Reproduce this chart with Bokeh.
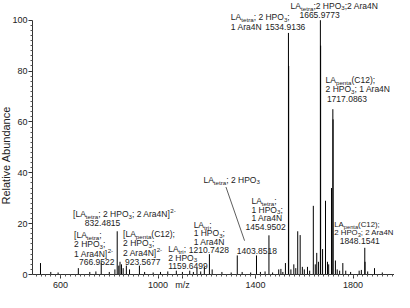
import re
from bokeh.plotting import figure
from bokeh.models import ColumnDataSource, FixedTicker, Range1d, Title
from bokeh.core.properties import value
from bokeh.embed import file_html
from bokeh.resources import INLINE

# ---------------- data ----------------
mz = [517.8, 560, 590, 673, 720, 745, 766.95, 800, 823, 832.48, 839, 844, 850, 857,
      870, 883, 923.57, 945, 980, 1010, 1040, 1075, 1100, 1130, 1145, 1159.65, 1175,
      1190, 1210.74, 1222, 1262, 1300, 1325, 1345, 1380, 1403.85, 1420, 1439, 1454.95,
      1470, 1495, 1504, 1512, 1522.6, 1534.91, 1535.91, 1545, 1557, 1565, 1573, 1583,
      1592, 1600, 1613, 1622, 1637, 1645, 1651, 1658, 1665.98, 1666.98, 1675, 1687,
      1695, 1700, 1711.5, 1717.09, 1718.09, 1727.6, 1735, 1745, 1758, 1770, 1790,
      1825, 1834, 1848.15, 1849.15, 1860, 1888, 1920]
abundance = [4.5, 1.0, 0.8, 2.5, 1.0, 1.2, 4.8, 1.0, 2.0, 17.0, 3.5, 5.0, 4.0, 2.5,
             3.5, 2.0, 3.5, 1.0, 0.8, 1.0, 1.2, 1.5, 1.0, 1.5, 1.0, 2.5, 1.2,
             3.0, 8.0, 2.0, 1.0, 0.8, 7.5, 1.0, 0.8, 7.5, 1.0, 1.2, 15.4,
             0.8, 2.0, 2.2, 1.0, 4.5, 95, 82, 2.0, 4.0, 2.5, 17, 15.5,
             3.0, 2.0, 3.0, 1.5, 27, 4.0, 8.5, 5.0, 100, 90, 10, 29,
             5.0, 4.0, 34, 65, 61, 5.5, 2.0, 1.5, 4.5, 1.5, 1.0,
             1.5, 1.8, 10.5, 5.0, 1.2, 2.5, 0.8]

x_ticks = [600, 1000, 1400, 1800]
y_ticks = [0, 20, 40, 60, 80, 100]
x_title_at = 1100
x_title = "m/z"
y_title = "Relative Abundance"

# peak annotations: (m/z of left edge, abundance of line centre, text with _{sub} ^{sup}, size)
annotations = [
    (651.6, 23.6, "[LA_{tetra}; 2 HPO_{3}; 2 Ara4N]^{2-}", 8.5),
    (699.8, 20.3, "832.4815", 8.5),
    (655.6, 15.5, "[LA_{tetra};", 8.5),
    (655.6, 11.8, "2 HPO_{3};", 8.5),
    (655.6, 8.1, "1 Ara4N]^{2-}", 8.5),
    (675.7, 4.8, "766.9522", 8.5),
    (856.6, 15.9, "[LA_{penta}(C12);", 8.5),
    (856.6, 12.2, "2 HPO_{3};", 8.5),
    (856.6, 8.5, "2 Ara4N]^{2-}", 8.5),
    (864.6, 4.8, "923.5677", 8.5),
    (1041.5, 10.0, "LA_{tri};", 8.5),
    (1041.5, 6.6, "2 HPO_{3}", 8.5),
    (1041.5, 3.3, "1159.6499", 8.5),
    (1146.0, 19.6, "LA_{tri};", 8.5),
    (1146.0, 16.3, "1 HPO_{3};", 8.5),
    (1146.0, 12.9, "1 Ara4N", 8.5),
    (1125.9, 9.6, "1210.7428", 8.5),
    (1186.2, 37.3, "LA_{tetra}; 2 HPO_{3}", 8.5),
    (1322.8, 9.2, "1403.8518", 8.5),
    (1383.1, 28.8, "LA_{tetra};", 8.5),
    (1383.1, 25.5, "1 HPO_{3};", 8.5),
    (1383.1, 22.2, "1 Ara4N", 8.5),
    (1359.0, 18.7, "1454.9502", 8.5),
    (1298.7, 101.2, "LA_{tetra}; 2 HPO_{3};", 8.5),
    (1298.7, 97.5, "1 Ara4N", 8.5),
    (1439.4, 97.2, "1534.9136", 8.5),
    (1543.8, 105.6, "LA_{tetra};2 HPO_{3};2 Ara4N", 8.5),
    (1580.0, 102.0, "1665.9773", 8.5),
    (1687.3, 76.5, "LA_{penta}(C12);", 8.5),
    (1687.3, 72.8, "2 HPO_{3}; 1 Ara4N", 8.5),
    (1692.6, 69.1, "1717.0863", 8.5),
    (1723.0, 19.7, "LA_{penta}(C12);", 7.8),
    (1723.0, 16.6, "2 HPO_{3}; 2 Ara4N", 7.8),
    (1745.0, 13.2, "1848.1541", 8.5),
]
leader_x = [1278.6, 1354.9]
leader_y = [34.4, 13.3]

# ---------------- figure ----------------
FONT = "Liberation Sans"
p = figure(width=394, height=292, output_backend="svg", toolbar_location=None,
           x_range=Range1d(485, 1970), y_range=Range1d(0, 107.75),
           min_border_left=0, min_border_right=0, min_border_top=0, min_border_bottom=0)
p.outline_line_color = None
p.xgrid.visible = False
p.ygrid.visible = False
p.background_fill_color = "white"
p.border_fill_color = "white"

p.segment(x0=mz, y0=[0] * len(mz), x1=mz, y1=abundance, line_color="black", line_width=1)
p.line(leader_x, leader_y, line_color="#333333", line_width=0.8)

for ax in (p.xaxis[0], p.yaxis[0]):
    ax.axis_line_color = "#333333"
    ax.major_tick_line_color = "#333333"
    ax.minor_tick_line_color = "#555555"
    ax.major_tick_in = 0
    ax.major_tick_out = 4
    ax.minor_tick_in = 0
    ax.minor_tick_out = 2
    ax.major_label_text_font = FONT
    ax.major_label_text_font_size = "9px"
    ax.major_label_text_color = "#222222"
    ax.major_label_standoff = 1

p.yaxis[0].ticker = FixedTicker(ticks=y_ticks, minor_ticks=[v for v in range(0, 101, 2) if v % 20])
p.yaxis[0].bounds = (0, 100)
p.xaxis[0].ticker = FixedTicker(ticks=x_ticks + [x_title_at],
                                minor_ticks=list(range(500, 1961, 20)))
p.xaxis[0].major_label_overrides = {x_title_at: x_title}

p.add_layout(Title(text=y_title, align="left", offset=70, standoff=-5,
                   text_font=FONT, text_font_size="11px", text_font_style="normal",
                   text_color="#222222"), "left")

# ---------------- rich text annotations ----------------
W = {' ': 278, '(': 333, ')': 333, '-': 333, '.': 278, ':': 278, ';': 278, '[': 278, ']': 278,
     'A': 667, 'C': 722, 'H': 722, 'L': 556, 'N': 722, 'O': 778, 'P': 667,
     'a': 556, 'c': 500, 'e': 556, 'i': 222, 'n': 556, 'p': 556, 'r': 333, 't': 278}


def width(s, size):
    return sum(W.get(c, 556) for c in s) / 1000.0 * size


cols = dict(x=[], y=[], text=[], xo=[], yo=[], size=[])
for x0, y0, line, norm in annotations:
    small = norm * 0.73
    off = 0.0
    for tok in re.split(r'(_\{[^}]*\}|\^\{[^}]*\})', line):
        if not tok:
            continue
        if tok.startswith('_{'):
            t, size, yo = tok[2:-1], small, 2.5
        elif tok.startswith('^{'):
            t, size, yo = tok[2:-1], small, -3.3
        else:
            t, size, yo = tok, norm, 0.0
        cols['x'].append(x0)
        cols['y'].append(y0)
        cols['text'].append(t)
        cols['xo'].append(round(off, 2))
        cols['yo'].append(yo)
        cols['size'].append(f"{size:.1f}px")
        off += width(t, size)

src = ColumnDataSource(cols)
p.text(x='x', y='y', text='text', x_offset='xo', y_offset='yo', text_font_size='size',
       text_font=value(FONT), text_align='left', text_baseline='middle',
       text_color="#222222", source=src)

open("out.html", "w").write(file_html(p, INLINE))
